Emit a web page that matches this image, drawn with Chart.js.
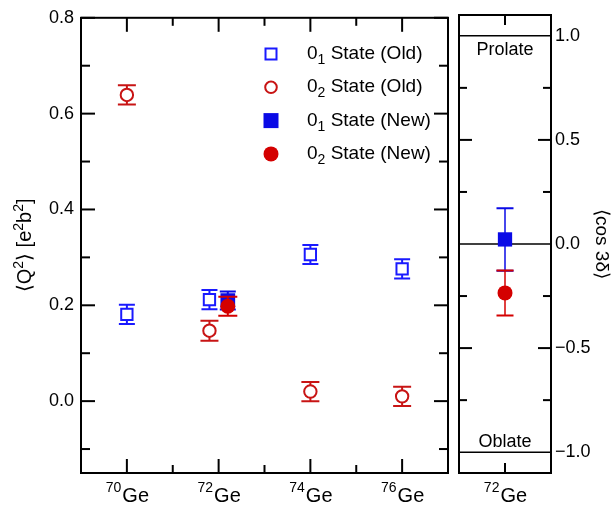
<!DOCTYPE html>
<html>
<head>
<meta charset="utf-8">
<script src="https://cdn.jsdelivr.net/npm/chart.js@4.4.0/dist/chart.umd.min.js"></script>
<style>
  body { margin: 0; background: #fff; }
  #wrap { position: relative; width: 614px; height: 505px; }
  canvas { position: absolute; top: 0; }
</style>
</head>
<body>
<div id="wrap">
  <canvas id="left" width="452" height="505" style="left:0;width:452px;height:505px"></canvas>
  <canvas id="right" width="162" height="505" style="left:452px;width:162px;height:505px"></canvas>
</div>
<script>
const isotopes = [70, 72, 74, 76];
const isoLabels = ['70', '72', '74', '76'];
const q2Ticks = [0.0, 0.2, 0.4, 0.6, 0.8];
const cosTicks = [-1.0, -0.5, 0.0, 0.5, 1.0];

// left panel, <Q^2> in e^2 b^2
const oldX = [70, 71.8, 74, 76];
const state1Old = [0.181, 0.212, 0.306, 0.276];
const state1OldErr = [0.02, 0.02, 0.02, 0.02];
const state2Old = [0.639, 0.147, 0.02, 0.01];
const state2OldErr = [0.02, 0.021, 0.02, 0.02];
const newX = [72.2];
const state1New = [0.21];
const state1NewErr = [0.019];
const state2New = [0.198];
const state2NewErr = [0.02];

// right panel, <cos 3 delta> of 72Ge
const cosX = [72];
const cos1New = [0.022];
const cos1NewErr = [0.15];
const cos2New = [-0.235];
const cos2NewErr = [0.108];

const blueOld = '#1a1aff', redOld = '#c81414';
const blueNew = '#0a0ae6', redNew = '#d40000';
const FONT = '"Liberation Sans", Arial, sans-serif';

Chart.defaults.font.family = FONT;
Chart.defaults.animation = false;

const pts = (xs, ys) => xs.map((x, i) => ({ x: x, y: ys[i] }));

const errorBars = {
  id: 'errorBars',
  beforeDatasetDraw(chart, args) {
    const ds = chart.data.datasets[args.index];
    if (!ds.err) return;
    const ys = chart.scales.y, ctx = chart.ctx;
    ctx.save();
    ctx.strokeStyle = ds.barColor;
    args.meta.data.forEach((p, i) => {
      const v = ds.data[i].y, e = ds.err[i];
      const top = ys.getPixelForValue(v + e), bot = ys.getPixelForValue(v - e);
      ctx.lineWidth = ds.stemWidth;
      ctx.beginPath(); ctx.moveTo(p.x, top); ctx.lineTo(p.x, bot); ctx.stroke();
      ctx.lineWidth = 2;
      ctx.beginPath();
      ctx.moveTo(p.x - ds.cap, top); ctx.lineTo(p.x + ds.cap, top);
      ctx.moveTo(p.x - ds.cap, bot); ctx.lineTo(p.x + ds.cap, bot);
      ctx.stroke();
    });
    ctx.restore();
  }
};

function tick(ctx, x1, y1, x2, y2) {
  ctx.beginPath(); ctx.moveTo(x1, y1); ctx.lineTo(x2, y2); ctx.stroke();
}

// isotope label with superscript mass number
function isoLabel(ctx, cx, mass) {
  ctx.font = '14px ' + FONT;
  const w1 = ctx.measureText(mass).width;
  ctx.font = '20px ' + FONT;
  const w2 = ctx.measureText('Ge').width;
  const x0 = cx - (w1 + w2) / 2;
  ctx.textAlign = 'left';
  ctx.textBaseline = 'alphabetic';
  ctx.font = '14px ' + FONT;
  ctx.fillText(mass, x0, 492);
  ctx.font = '20px ' + FONT;
  ctx.fillText('Ge', x0 + w1 + 1, 502);
}

// runs of [text, size, dy]
function richText(ctx, x, y, runs) {
  let cx = x;
  runs.forEach(r => {
    ctx.font = r[1] + 'px ' + FONT;
    ctx.fillText(r[0], cx, y + r[2]);
    cx += ctx.measureText(r[0]).width;
  });
  return cx - x;
}
function richWidth(ctx, runs) {
  let w = 0;
  runs.forEach(r => { ctx.font = r[1] + 'px ' + FONT; w += ctx.measureText(r[0]).width; });
  return w;
}

function marker(ctx, type, x, y) {
  ctx.save();
  ctx.lineWidth = 2;
  if (type === 'sqOpen') {
    ctx.strokeStyle = blueOld; ctx.fillStyle = '#fff';
    ctx.fillRect(x - 5.5, y - 5.5, 11, 11); ctx.strokeRect(x - 5.5, y - 5.5, 11, 11);
  } else if (type === 'ciOpen') {
    ctx.strokeStyle = redOld;
    ctx.beginPath(); ctx.arc(x, y, 5.8, 0, Math.PI * 2); ctx.stroke();
  } else if (type === 'sqFill') {
    ctx.fillStyle = blueNew; ctx.fillRect(x - 7.5, y - 7.5, 15, 15);
  } else {
    ctx.fillStyle = redNew;
    ctx.beginPath(); ctx.arc(x, y, 7.5, 0, Math.PI * 2); ctx.fill();
  }
  ctx.restore();
}

const legendRows = [
  ['sqOpen', '1', 'Old'], ['ciOpen', '2', 'Old'],
  ['sqFill', '1', 'New'], ['ciFill', '2', 'New']
];

const leftDeco = {
  id: 'leftDeco',
  afterDraw(chart) {
    const ctx = chart.ctx, a = chart.chartArea;
    const xs = chart.scales.x, ys = chart.scales.y;
    ctx.save();
    ctx.strokeStyle = '#000'; ctx.fillStyle = '#000'; ctx.lineWidth = 2;
    ctx.strokeRect(a.left, a.top, a.right - a.left, a.bottom - a.top);
    for (let k = -1; k <= 8; k++) {
      const y = ys.getPixelForValue(k / 10);
      const len = k % 2 === 0 ? 14 : 9;
      tick(ctx, a.left, y, a.left + len, y);
      tick(ctx, a.right, y, a.right - len, y);
    }
    for (let v = 70; v <= 76; v++) {
      const x = xs.getPixelForValue(v);
      const len = v % 2 === 0 ? 14 : 8;
      tick(ctx, x, a.bottom, x, a.bottom - len);
      tick(ctx, x, a.top, x, a.top + len);
    }
    isotopes.forEach((v, i) => isoLabel(ctx, xs.getPixelForValue(v), isoLabels[i]));

    // y title
    const runs = [['\u27E8Q', 20, 0], ['2', 14, -8], ['\u27E9 [e', 20, 0], ['2', 14, -8], ['b', 20, 0], ['2', 14, -8], [']', 20, 0]];
    ctx.save();
    ctx.translate(31, (a.top + a.bottom) / 2);
    ctx.rotate(-Math.PI / 2);
    ctx.textAlign = 'left';
    richText(ctx, -richWidth(ctx, runs) / 2, 0, runs);
    ctx.restore();

    // legend
    legendRows.forEach((r, i) => {
      const cy = 54 + i * 33.3;
      marker(ctx, r[0], 271, cy);
      ctx.fillStyle = '#000'; ctx.textAlign = 'left';
      richText(ctx, 307, cy + 5, [['0', 19, 0], [r[1], 14, 5], [' State (' + r[2] + ')', 19, 0]]);
    });
    ctx.restore();
  }
};

const rightDeco = {
  id: 'rightDeco',
  beforeDatasetsDraw(chart) {
    const ctx = chart.ctx, a = chart.chartArea, ys = chart.scales.y;
    ctx.save();
    ctx.strokeStyle = '#000'; ctx.lineWidth = 1.5;
    [1, 0, -1].forEach(v => {
      const y = ys.getPixelForValue(v);
      tick(ctx, a.left, y, a.right, y);
    });
    ctx.restore();
  },
  afterDraw(chart) {
    const ctx = chart.ctx, a = chart.chartArea;
    const xs = chart.scales.x, ys = chart.scales.y;
    ctx.save();
    ctx.strokeStyle = '#000'; ctx.fillStyle = '#000'; ctx.lineWidth = 2;
    ctx.strokeRect(a.left, a.top, a.right - a.left, a.bottom - a.top);
    for (let k = -3; k <= 3; k++) {
      if (k === 0) continue;
      const y = ys.getPixelForValue(k / 4);
      const len = k % 2 === 0 ? 13 : 8;
      tick(ctx, a.left, y, a.left + len, y);
      tick(ctx, a.right, y, a.right - len, y);
    }
    const cx = xs.getPixelForValue(72);
    tick(ctx, cx, a.top, cx, a.top + 10);
    tick(ctx, cx, a.bottom, cx, a.bottom - 10);
    isoLabel(ctx, cx, '72');

    ctx.font = '18px ' + FONT;
    ctx.textAlign = 'center';
    ctx.fillText('Prolate', cx, 55);
    ctx.fillText('Oblate', cx, 447);

    ctx.save();
    ctx.translate(144, (a.top + a.bottom) / 2);
    ctx.rotate(Math.PI / 2);
    ctx.font = '19px ' + FONT;
    ctx.textAlign = 'center';
    ctx.fillText('\u27E8cos 3\u03B4\u27E9', 0, 0);
    ctx.restore();
    ctx.restore();
  }
};

new Chart(document.getElementById('left'), {
  type: 'scatter',
  data: {
    datasets: [
      { label: '01 Old', data: pts(oldX, state1Old), err: state1OldErr, order: 4,
        pointStyle: 'rect', pointRadius: 8, borderWidth: 2, borderColor: blueOld,
        backgroundColor: '#fff', barColor: blueOld, stemWidth: 2, cap: 8 },
      { label: '02 Old', data: pts(oldX, state2Old), err: state2OldErr, order: 3,
        pointStyle: 'circle', pointRadius: 6.2, borderWidth: 2, borderColor: redOld,
        backgroundColor: '#fff', barColor: redOld, stemWidth: 2, cap: 9 },
      { label: '01 New', data: pts(newX, state1New), err: state1NewErr, order: 2,
        pointStyle: 'rect', pointRadius: 10.4, borderWidth: 0, borderColor: blueNew,
        backgroundColor: blueNew, barColor: blueNew, stemWidth: 2, cap: 8 },
      { label: '02 New', data: pts(newX, state2New), err: state2NewErr, order: 1,
        pointStyle: 'circle', pointRadius: 7.5, borderWidth: 0, borderColor: redNew,
        backgroundColor: redNew, barColor: redNew, stemWidth: 2, cap: 9.5 }
    ]
  },
  options: {
    responsive: false,
    events: [],
    layout: { autoPadding: false, padding: { top: 15, right: 4, bottom: 32, left: 0 } },
    scales: {
      x: { type: 'linear', min: 69, max: 77, display: false },
      y: {
        min: -0.15, max: 0.8,
        afterBuildTicks: s => { s.ticks = q2Ticks.map(v => ({ value: v })); },
        afterFit: s => { s.width = 81; },
        grid: { display: false, drawTicks: false },
        border: { display: false },
        ticks: { color: '#000', font: { size: 18 }, padding: 7, callback: v => v.toFixed(1) }
      }
    },
    plugins: { legend: { display: false }, tooltip: { enabled: false } }
  },
  plugins: [errorBars, leftDeco]
});

new Chart(document.getElementById('right'), {
  type: 'scatter',
  data: {
    datasets: [
      { label: '01 New', data: pts(cosX, cos1New), err: cos1NewErr, order: 2,
        pointStyle: 'rect', pointRadius: 10.1, borderWidth: 0, borderColor: blueNew,
        backgroundColor: blueNew, barColor: blueNew, stemWidth: 1.5, cap: 8.5 },
      { label: '02 New', data: pts(cosX, cos2New), err: cos2NewErr, order: 1,
        pointStyle: 'circle', pointRadius: 7.5, borderWidth: 0, borderColor: redNew,
        backgroundColor: redNew, barColor: redNew, stemWidth: 1.5, cap: 8.5 }
    ]
  },
  options: {
    responsive: false,
    events: [],
    layout: { autoPadding: false, padding: { top: 15, right: 0, bottom: 32, left: 7 } },
    scales: {
      x: { type: 'linear', min: 71, max: 73, display: false },
      y: {
        position: 'right',
        min: -1.1, max: 1.1,
        afterBuildTicks: s => { s.ticks = cosTicks.map(v => ({ value: v })); },
        afterFit: s => { s.width = 63; },
        grid: { display: false, drawTicks: false },
        border: { display: false },
        ticks: { color: '#000', font: { size: 18 }, padding: 4,
          callback: v => v.toFixed(1).replace('-', '\u2212') }
      }
    },
    plugins: { legend: { display: false }, tooltip: { enabled: false } }
  },
  plugins: [errorBars, rightDeco]
});
</script>
</body>
</html>
